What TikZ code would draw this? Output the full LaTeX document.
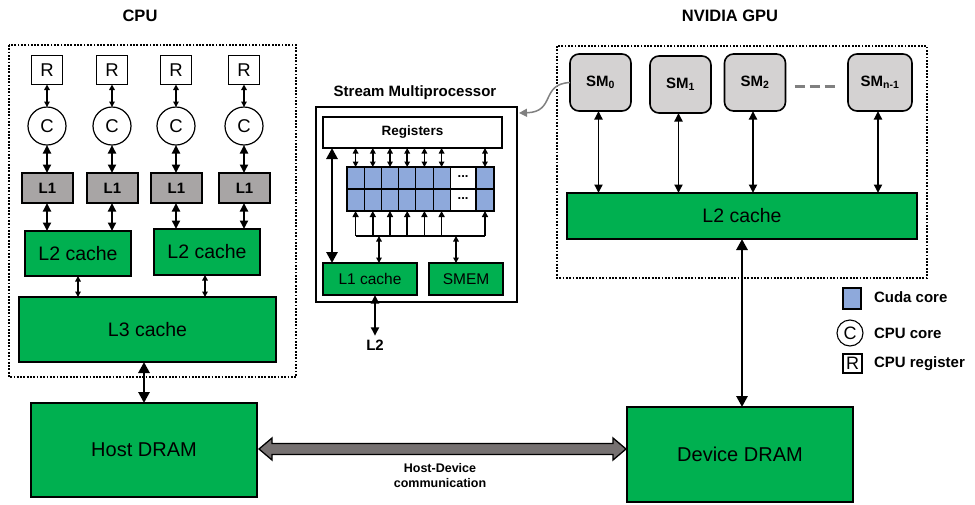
\documentclass[tikz,border=0pt]{standalone}
\usepackage{fontspec}
\setmainfont{Liberation Sans}
\usetikzlibrary{arrows.meta,calc}
\definecolor{cgreen}{HTML}{00B050}
\definecolor{cgray}{HTML}{A8A5A5}
\definecolor{smgray}{HTML}{D4D2D2}
\definecolor{cuda}{HTML}{8EA9DB}
\definecolor{fatgray}{HTML}{767171}
\definecolor{curvegray}{HTML}{808080}
\tikzset{
 every node/.style={inner sep=0pt, outer sep=0pt},
 blk/.style={draw, line width=1.6pt},
 grn/.style={blk, fill=cgreen, font=\fontsize{19.5}{23}\selectfont},
 rbox/.style={draw, line width=1.2pt, fill=white, minimum width=31pt, minimum height=29pt, font=\fontsize{18.5}{20}\selectfont},
 cbox/.style={draw, circle, line width=1.2pt, fill=white, minimum size=38pt, font=\fontsize{18.5}{20}\selectfont},
 l1box/.style={blk, fill=cgray, minimum width=51pt, minimum height=30pt, font=\bfseries\fontsize{15}{17}\selectfont},
 smbox/.style={blk, rounded corners=9pt, fill=smgray, minimum width=61pt, minimum height=57pt, font=\bfseries\fontsize{15}{17}\selectfont},
 arr/.style={{Triangle[length=8.5pt,width=8pt]}-{Triangle[length=8.5pt,width=8pt]}, line width=1.8pt},
 sarr/.style={{Triangle[length=5.5pt,width=5.5pt]}-{Triangle[length=5.5pt,width=5.5pt]}, line width=1.5pt},
 uarr/.style={-{Triangle[length=6pt,width=6pt]}, line width=1.5pt},
 bigarr/.style={{Triangle[length=11pt,width=11pt]}-{Triangle[length=11pt,width=11pt]}, line width=2.8pt},
 ttl/.style={font=\bfseries\fontsize{16.5}{20}\selectfont},
 lbl/.style={font=\bfseries\fontsize{15}{18}\selectfont},
 cell/.style={draw, line width=0.8pt, fill=cuda, minimum height=22pt},
 dotbox/.style={line width=1.8pt, dash pattern=on 1.8pt off 1.5pt},
}
\begin{document}
\begin{tikzpicture}[x=1pt,y=-1pt]
\useasboundingbox (0,0) rectangle (975,504);
% ---------- CPU ----------
\node[ttl] (cputitle) at (140,16) {CPU};
\draw[dotbox] (9,45) rectangle (296,377);
\foreach \i/\x in {1/47,2/112,3/176,4/244}{
  \node[rbox] (r\i) at (\x,70) {R};
  \node[cbox] (c\i) at (\x,126) {C};
  \node[l1box] (lone\i) at (\x+0.5,188) {L1};
  \draw[sarr] (r\i.south) -- (c\i.north);
  \draw[arr] (c\i.south) -- (c\i.south |- lone\i.north);
}
\node[grn, minimum width=106pt, minimum height=45pt] (l2a) at (78,253.5) {L2 cache};
\node[grn, minimum width=106pt, minimum height=46pt] (l2b) at (207,252) {L2 cache};
\node[grn, minimum width=257pt, minimum height=65pt] (lthree) at (147.5,329.5) {L3 cache};
\draw[arr] (c1.south |- lone1.south) -- (c1.south |- l2a.north);
\draw[arr] (c2.south |- lone2.south) -- (c2.south |- l2a.north);
\draw[arr] (c3.south |- lone3.south) -- (c3.south |- l2b.north);
\draw[arr] (c4.south |- lone4.south) -- (c4.south |- l2b.north);
\draw[sarr] (l2a.south) -- (l2a.south |- lthree.north);
\coordinate (l2bs) at ($(l2b.south)+(-2,0)$);
\draw[sarr] (l2bs) -- (l2bs |- lthree.north);
% ---------- DRAM ----------
\node[grn, font=\fontsize{20}{24}\selectfont, minimum width=226pt, minimum height=94pt] (host) at (144,450) {Host DRAM};
\node[grn, font=\fontsize{20}{24}\selectfont, minimum width=226pt, minimum height=95pt] (device) at (740,454.5) {Device DRAM};
\draw[bigarr] (host.north |- lthree.south) -- (host.north);
\coordinate (fa) at ($(host.east)+(2,-1)$);
\coordinate (fb) at ($(device.west |- fa)+(-1,0)$);
\draw[line width=1.3pt, fill=fatgray, line join=miter]
 (fa) -- ($(fa)+(13,-11)$) -- ($(fa)+(13,-5.5)$) -- ($(fb)+(-13,-5.5)$) -- ($(fb)+(-13,-11)$) -- (fb)
 -- ($(fb)+(-13,11)$) -- ($(fb)+(-13,5.5)$) -- ($(fa)+(13,5.5)$) -- ($(fa)+(13,11)$) -- cycle;
\node[align=center, font=\bfseries\fontsize{12.5}{15}\selectfont] (hdlab) at (440,476) {Host-Device\\communication};
% ---------- GPU ----------
\node[ttl] (gputitle) at (730,16) {NVIDIA GPU};
\draw[dotbox] (557,46) rectangle (927,278);
\node[smbox] (sm0) at (600.5,82.5) {SM\textsubscript{0}};
\node[smbox] (sm1) at (680.5,84.5) {SM\textsubscript{1}};
\node[smbox] (sm2) at (755,82.5) {SM\textsubscript{2}};
\node[smbox, minimum width=64pt] (sm3) at (880,82.5) {SM\textsubscript{n-1}};
\draw[curvegray, line width=3pt, dash pattern=on 10pt off 5pt] ($(sm2.east)+(9,4)$) -- ($(sm3.west)+(-11,4)$);
\node[grn, minimum width=350pt, minimum height=46pt] (gl2) at (742,216) {L2 cache};
\foreach \s in {sm0,sm1,sm2,sm3}{
  \coordinate (\s b) at ($(\s.south)+(-2,0)$);
  \draw[arr] (\s b) -- (\s b |- gl2.north);
}
\draw[bigarr] (gl2.south) -- (gl2.south |- device.north);
% ---------- Stream Multiprocessor ----------
\node[font=\bfseries\fontsize{15}{18}\selectfont] (smtitle) at (415,93) {Stream Multiprocessor};
\node[draw, line width=1.3pt, minimum width=201pt, minimum height=195pt] (smb) at (416.5,204.5) {};
\node[blk, fill=white, minimum width=179pt, minimum height=31pt, font=\bfseries\fontsize{13.5}{16}\selectfont] (reg) at (412.5,132.5) {Registers};
\node[grn, font=\fontsize{15.5}{18}\selectfont, minimum width=94pt, minimum height=32pt] (l1c) at (370,279) {L1 cache};
\node[grn, font=\fontsize{15.5}{18}\selectfont, minimum width=74pt, minimum height=32pt] (smem) at (466,279) {SMEM};
\foreach \r/\y in {1/178,2/200}{
  \foreach \i/\xl/\w in {1/347/17.2,2/364.2/17.2,3/381.4/17.2,4/398.6/17.2,5/415.8/17.2,6/433/17.2,8/476/18}{
    \node[cell, minimum width=\w pt, anchor=west] (g\r\i) at (\xl,\y) {};
  }
  \node[cell, fill=white, minimum width=25.8pt, anchor=west, font=\bfseries\fontsize{13}{14}\selectfont] (g\r7) at (450.2,\y) {\raisebox{2pt}{...}};
  \draw[line width=1.8pt] (g\r1.north west) rectangle (g\r8.south east);
  \draw[line width=1.8pt] (g\r8.north west) rectangle (g\r8.south east);
}
\coordinate (bus) at (400,236);
\foreach \i in {1,2,3,4,5,6,8}{
  \draw[sarr] (g1\i.north) -- (g1\i.north |- reg.south);
  \draw[uarr] (g2\i.south |- bus) -- (g2\i.south);
}
\draw[line width=1.6pt] (g21.south |- bus) -- (g28.south |- bus);
\coordinate (l1top) at ($(l1c.north)+(9,0)$);
\coordinate (smtop) at ($(smem.north)+(-10,0)$);
\draw[sarr] (l1top |- bus) -- (l1top);
\draw[sarr] (smtop |- bus) -- (smtop);
\coordinate (regl) at ($(reg.south west)+(9,0)$);
\draw[bigarr] (regl) -- (regl |- l1c.north);
\node[lbl] (l2lab) at (375,345) {L2};
\coordinate (l2labtop) at ($(l2lab.north)+(0,-4)$);
\draw[arr] (l2labtop |- l1c.south) -- (l2labtop);
\draw[curvegray, line width=1.5pt, -{Triangle[length=8pt,width=8pt]}] (sm0.west) .. controls (540,84) and (556,112) .. ($(smb.north east)+(2,6)$);
% ---------- Legend ----------
\node[draw, line width=1.3pt, fill=cuda, minimum width=18pt, minimum height=21pt] (lg1) at (852,298.5) {};
\node[lbl, anchor=west] (lg1t) at (874,297) {Cuda core};
\node[draw, circle, line width=1.1pt, minimum size=26pt, font=\fontsize{18}{20}\selectfont] (lg2) at (850,333) {C};
\node[lbl, anchor=west] (lg2t) at (874,333) {CPU core};
\node[draw, line width=1.1pt, minimum width=19pt, minimum height=19pt, font=\fontsize{18}{20}\selectfont] (lg3) at (852.5,363.5) {R};
\node[lbl, anchor=west] (lg3t) at (874,364) {CPU register};
\end{tikzpicture}
\end{document}
